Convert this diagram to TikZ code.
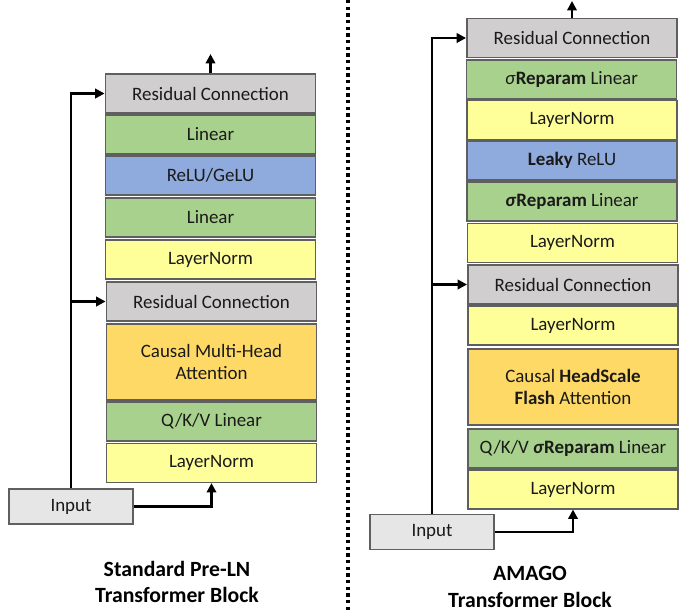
\documentclass[tikz,border=0pt]{standalone}
\usepackage{fontspec}
\setmainfont{Carlito}
\usetikzlibrary{arrows.meta}
\definecolor{cgray}{HTML}{D0CECE}
\definecolor{cgreen}{HTML}{A9D18E}
\definecolor{cblue}{HTML}{8FAADC}
\definecolor{cyel}{HTML}{FFFF99}
\definecolor{corange}{HTML}{FFD966}
\definecolor{cinput}{HTML}{E7E6E6}
\definecolor{cedge}{HTML}{5F5F5F}
\definecolor{ctext}{HTML}{1A1A1A}
\tikzset{
  blk/.style={draw=cedge, line width=1.1pt, rectangle, inner sep=0pt, align=center,
    minimum width=157.8pt, minimum height=29pt, text=ctext,
    font=\fontsize{14.2}{17}\selectfont},
  tallblk/.style={blk, minimum height=57pt},
  inbox/.style={blk, fill=cinput, minimum width=93pt, minimum height=26pt},
  arr/.style={line width=2.2pt, -{Triangle[length=7pt,width=7pt]}},
  ttl/.style={font=\fontsize{16.3}{20}\selectfont\bfseries, text=black, align=center}
}
\begin{document}
\begin{tikzpicture}[x=0.75pt,y=-0.75pt]
\useasboundingbox (0,0) rectangle (679,611);
% divider
\draw[line width=2.3pt, dash pattern=on 2.4pt off 2.6pt] (348,0) -- (348,611);
% ---------- left ----------
\node[blk, fill=cgray]   (lR1)  at (210.5,93.5)  {Residual Connection};
\node[blk, fill=cgreen]  (lL1)  at (210.5,134.5) {Linear};
\node[blk, fill=cblue]   (lG)   at (210.5,175.5) {ReLU/GeLU};
\node[blk, fill=cgreen]  (lL2)  at (210.5,217.5) {Linear};
\node[blk, fill=cyel]    (lN1)  at (210.5,259.5) {LayerNorm};
\node[blk, fill=cgray]   (lR2)  at (211.5,301.5) {Residual Connection};
\node[tallblk, fill=corange] (lA) at (211.5,362) {Causal Multi-Head\\Attention};
\node[blk, fill=cgreen]  (lQ)   at (211.5,421.5) {Q/K/V Linear};
\node[blk, fill=cyel]    (lN2)  at (211.5,463)   {LayerNorm};
\node[inbox] (lIn) at (71,506.5) {Input};
\coordinate (lOut) at (210.5,54);
\draw[arr] (lIn.north) |- (lR1.west);
\draw[arr] (lIn.north |- lR2.west) -- (lR2.west);
\draw[arr] (lIn.east) -| (lN2.south);
\draw[arr] (lR1.north) -- (lOut);
\node[ttl] (lT) at (177,582) {Standard Pre-LN\\Transformer Block};
% ---------- right ----------
\node[blk, fill=cgray]   (rR1) at (572,38)    {Residual Connection};
\node[blk, fill=cgreen]  (rS1) at (571.5,79.5) {{\itshape σ}\textbf{Reparam} Linear};
\node[blk, fill=cyel]    (rN1) at (572,120)   {LayerNorm};
\node[blk, fill=cblue]   (rG)  at (572,160.5) {\textbf{Leaky} ReLU};
\node[blk, fill=cgreen]  (rS2) at (572,201.5) {{\bfseries\itshape σ}\textbf{Reparam} Linear};
\node[blk, fill=cyel]    (rN2) at (572.5,243)   {LayerNorm};
\node[blk, fill=cgray]   (rR2) at (573,284.5) {Residual Connection};
\node[blk, fill=cyel]    (rN3) at (573,325.5) {LayerNorm};
\node[tallblk, fill=corange] (rA) at (573,387) {Causal \textbf{HeadScale}\\\textbf{Flash} Attention};
\node[blk, fill=cgreen]  (rQ)  at (573,448.5) {Q/K/V {\bfseries\itshape σ}\textbf{Reparam} Linear};
\node[blk, fill=cyel]    (rN4) at (573,489.5) {LayerNorm};
\node[inbox] (rIn) at (432,532) {Input};
\coordinate (rOut) at (572,1);
\draw[arr] (rIn.north) |- (rR1.west);
\draw[arr] (rIn.north |- rR2.west) -- (rR2.west);
\draw[arr] (rIn.east) -| (rN4.south);
\draw[arr] (rR1.north) -- (rOut);
\node[ttl] (rT) at (530,587) {AMAGO\\Transformer Block};
\end{tikzpicture}
\end{document}
